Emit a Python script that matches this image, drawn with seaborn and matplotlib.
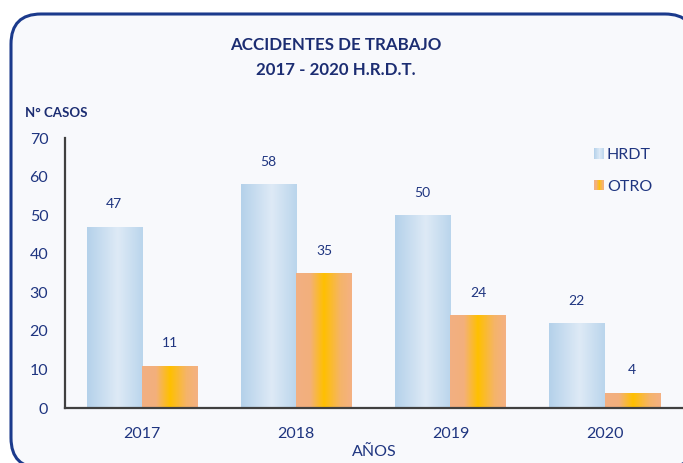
"""Accidentes de trabajo 2017-2020 H.R.D.T. - grouped bar chart with gradient bars."""
import matplotlib
matplotlib.use("Agg")
import matplotlib.pyplot as plt
import numpy as np
import pandas as pd
import seaborn as sns
from matplotlib.colors import LinearSegmentedColormap
from matplotlib.legend_handler import HandlerBase
from matplotlib.patches import FancyBboxPatch, Patch, Rectangle
from matplotlib.transforms import IdentityTransform

years = ["2017", "2018", "2019", "2020"]
series = ["HRDT", "OTRO"]
hrdt = [47, 58, 50, 22]
otro = [11, 35, 24, 4]

title_lines = ["ACCIDENTES DE TRABAJO", "2017 - 2020 H.R.D.T."]
y_label = "N° CASOS"
x_label = "AÑOS"
y_ticks = [0, 10, 20, 30, 40, 50, 60, 70]

NAVY = "#1f3580"
TITLE_NAVY = "#1c2d72"
FONT = ["Lato", "DejaVu Sans"]

cmaps = {
    "HRDT": LinearSegmentedColormap.from_list(
        "hrdt", [(0, "#b4d1ea"), (0.55, "#deeaf6"), (1, "#bad5ec")]),
    "OTRO": LinearSegmentedColormap.from_list(
        "otro", [(0, "#f2af82"), (0.25, "#f3b07c"), (0.5, "#ffc000"),
                 (0.8, "#f5b46a"), (1, "#f4b183")]),
}

df = pd.DataFrame({
    "year": years * 2,
    "serie": [series[0]] * len(years) + [series[1]] * len(years),
    "casos": hrdt + otro,
})

sns.set_style("white")
plt.rcParams["font.family"] = FONT

fig = plt.figure(figsize=(6.83, 4.63), dpi=100, facecolor="white")

# rounded frame (pixel coordinates, origin bottom-left); runs off right/bottom edges
frame = FancyBboxPatch((11, -5), 684, 454,
                       boxstyle="round,pad=0,rounding_size=30",
                       transform=IdentityTransform(), facecolor="#f8f9fc",
                       edgecolor="#1b3a8c", linewidth=2.2, zorder=0)
fig.add_artist(frame)

ax = fig.add_axes([65 / 683, 1 - 408 / 463, 1 - 65 / 683 - 0.002, (408 - 138) / 463])
ax.set_facecolor("none")

sns.barplot(data=df, x="year", y="casos", hue="serie", order=years,
            hue_order=series, width=0.72, ax=ax, legend=False,
            palette=["#c9def1", "#f8b860"], edgecolor="none", saturation=1)

grad = np.linspace(0, 1, 256).reshape(1, -1)
for name, cont in zip(series, ax.containers):
    for patch in cont:
        x, y = patch.get_x(), patch.get_y()
        w, h = patch.get_width(), patch.get_height()
        im = ax.imshow(grad, cmap=cmaps[name], aspect="auto",
                       extent=(x, x + w, y, y + h), zorder=2,
                       interpolation="bilinear")
        im.set_clip_path(patch)
        patch.set_facecolor("none")
        ax.annotate(f"{h:g}", (x + w / 2, y + h), xytext=(0, 16),
                    textcoords="offset points", ha="center", va="center",
                    color=NAVY, fontsize=10)

ax.set_xlim(-0.5, len(years) - 0.5)
ax.set_ylim(0, 70)
ax.set_yticks(y_ticks)
ax.set_xlabel("")
ax.set_ylabel("")
ax.tick_params(axis="both", length=0, labelsize=11.5, labelcolor=NAVY)
ax.tick_params(axis="y", pad=12)
ax.tick_params(axis="x", pad=14)
for side in ["top", "right"]:
    ax.spines[side].set_visible(False)
for side in ["left", "bottom"]:
    ax.spines[side].set_color("#404040")
    ax.spines[side].set_linewidth(1.6)
    ax.spines[side].set_zorder(3)


class GradHandler(HandlerBase):
    def __init__(self, cmap):
        super().__init__()
        self.cmap = cmap

    def create_artists(self, legend, orig_handle, xdescent, ydescent,
                       width, height, fontsize, trans):
        n = 16
        return [Rectangle((-xdescent + width * i / n, -ydescent), width / n + 0.05,
                          height, facecolor=self.cmap((i + 0.5) / n),
                          edgecolor="none", transform=trans)
                for i in range(n)]


handles = [Patch(label=s) for s in series]
leg = fig.legend(handles=handles, loc="upper left",
                 bbox_to_anchor=(586 / 683, 1 - 140 / 463), frameon=False,
                 handlelength=0.65, handleheight=0.65, handletextpad=0.15,
                 labelspacing=1.1, fontsize=11.5, borderpad=0,
                 handler_map={handles[i]: GradHandler(cmaps[s])
                              for i, s in enumerate(series)})
for t in leg.get_texts():
    t.set_color(NAVY)

fig.text(336 / 683, 1 - 45 / 463, title_lines[0], ha="center", va="center",
         color=TITLE_NAVY, fontsize=12.2, fontweight="bold")
fig.text(336 / 683, 1 - 70 / 463, title_lines[1], ha="center", va="center",
         color=TITLE_NAVY, fontsize=12.2, fontweight="bold")
fig.text(25 / 683, 1 - 113 / 463, y_label, ha="left", va="center",
         color=TITLE_NAVY, fontsize=9.5, fontweight="bold")
fig.text(374 / 683, 1 - 452 / 463, x_label, ha="center", va="center",
         color=NAVY, fontsize=11.5)

fig.savefig("out.png", dpi=100, facecolor="white")
plt.close(fig)
